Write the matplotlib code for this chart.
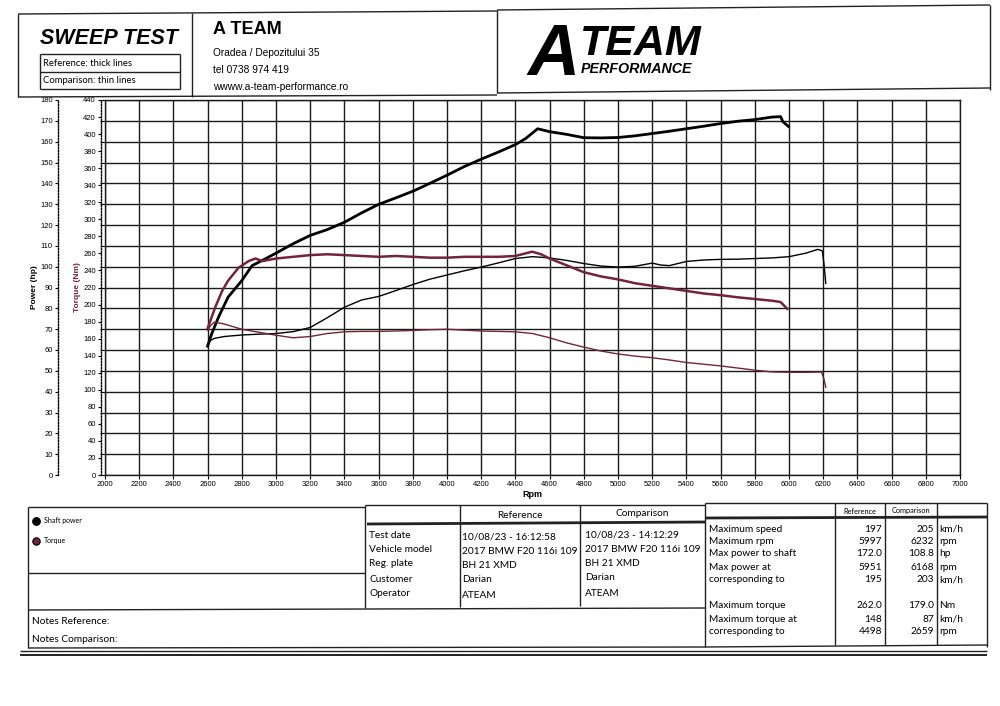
import matplotlib
matplotlib.use("Agg")
import matplotlib.pyplot as plt

# reference run (thick lines)
ref_power_rpm = [2600, 2625, 2665, 2720, 2800, 2860, 2920, 3000, 3100, 3200, 3300, 3400,
                 3500, 3600, 3700, 3800, 3900, 4000, 4100, 4200, 4300, 4400, 4460, 4530,
                 4600, 4700, 4800, 4900, 5000, 5100, 5200, 5300, 5400, 5500, 5600, 5700,
                 5800, 5900, 5951, 5965, 5997]
ref_power_hp = [61.9, 68.0, 76.0, 85.4, 93.3, 100.5, 103.0, 106.5, 111.0, 115.0, 117.8, 121.3,
                125.8, 129.9, 133.0, 136.2, 140.0, 143.9, 148.0, 151.6, 155.0, 158.6, 161.5, 166.2,
                164.8, 163.5, 161.9, 161.8, 162.0, 162.8, 163.9, 165.0, 166.2, 167.4, 168.7, 169.8,
                170.6, 171.8, 172.0, 169.5, 167.3]
ref_torque_rpm = [2600, 2645, 2685, 2720, 2780, 2840, 2880, 2920, 3000, 3100, 3200, 3300,
                  3400, 3500, 3600, 3700, 3800, 3900, 4000, 4100, 4200, 4300, 4400, 4498,
                  4550, 4600, 4700, 4800, 4900, 5000, 5100, 5200, 5300, 5400, 5500, 5600,
                  5700, 5800, 5900, 5950, 5970, 5990]
ref_torque_nm = [172, 197, 216, 228, 243, 251, 254, 251, 254, 256, 258, 259,
                 258, 257, 256, 257, 256, 255, 255, 256, 256, 256, 257, 262,
                 259, 254, 246, 238, 233, 229.5, 225, 222, 219, 216, 213, 211,
                 208.5, 206.5, 204.5, 203, 199, 195]

# comparison run (thin lines)
cmp_power_rpm = [2600, 2615, 2640, 2700, 2800, 2900, 3000, 3100, 3200, 3300, 3400, 3500,
                 3600, 3700, 3800, 3900, 4000, 4100, 4200, 4300, 4400, 4500, 4600, 4700,
                 4800, 4900, 5000, 5100, 5200, 5250, 5300, 5400, 5500, 5600, 5700, 5800,
                 5900, 6000, 6100, 6168, 6195, 6205, 6215]
cmp_power_hp = [61.5, 64.5, 65.6, 66.5, 67.2, 67.6, 67.9, 68.8, 70.8, 75.5, 80.5, 84.0,
                85.7, 88.5, 91.4, 94.0, 96.0, 98.0, 99.8, 101.8, 103.9, 104.8, 104.2, 103.0,
                101.5, 100.3, 99.8, 100.2, 101.7, 100.8, 100.5, 102.5, 103.2, 103.5, 103.6, 103.9,
                104.2, 104.8, 106.5, 108.3, 107.6, 101.0, 92.0]
cmp_torque_rpm = [2600, 2620, 2640, 2700, 2800, 2900, 3000, 3100, 3200, 3300, 3400, 3500,
                  3600, 3700, 3800, 3900, 4000, 4100, 4200, 4300, 4400, 4500, 4600, 4700,
                  4800, 4900, 5000, 5100, 5200, 5300, 5400, 5500, 5600, 5700, 5800, 5900,
                  6000, 6100, 6190, 6205, 6215]
cmp_torque_nm = [170, 176, 179.5, 177, 171, 167.5, 164, 161, 162.5, 166, 168, 168.5,
                 168.5, 169, 169.6, 170.5, 171, 170, 169, 168.5, 168, 166, 161, 155,
                 150, 145.5, 142, 139.5, 137.6, 135, 132, 130, 128, 125.5, 123, 121,
                 120.5, 120.5, 120.8, 112, 103]

rpm_ticks = list(range(2000, 7001, 200))
power_ticks = list(range(0, 181, 10))
torque_ticks = list(range(0, 441, 20))

info_labels = ["Test date", "Vehicle model", "Reg. plate", "Customer", "Operator"]
info_ref = ["10/08/23 - 16:12:58", "2017 BMW F20 116i 109", "BH 21 XMD", "Darian", "ATEAM"]
info_cmp = ["10/08/23 - 14:12:29", "2017 BMW F20 116i 109", "BH 21 XMD", "Darian", "ATEAM"]

summary_labels = ["Maximum speed", "Maximum rpm", "Max power to shaft", "Max power at",
                  "corresponding to", "Maximum torque", "Maximum torque at", "corresponding to"]
summary_ref = ["197", "5997", "172.0", "5951", "195", "262.0", "148", "4498"]
summary_cmp = ["205", "6232", "108.8", "6168", "203", "179.0", "87", "2659"]
summary_units = ["km/h", "rpm", "hp", "rpm", "km/h", "Nm", "km/h", "rpm"]

MAROON = "#72243a"
SANS = ["Liberation Sans", "DejaVu Sans"]
TAB = ["Lato", "DejaVu Sans"]

fig = plt.figure(figsize=(10, 7.06), dpi=100)
fig.patch.set_facecolor("white")

# ---- chart ----
ax = fig.add_axes([0.105, (706 - 475) / 706, 0.855, 375 / 706])
ax.set_xlim(2000, 7000)
ax.set_ylim(0, 180)
ax.set_xticks(rpm_ticks)
ax.set_yticks(power_ticks)
ax.grid(True, color="#1a1a1a", lw=1.0)
ax.set_axisbelow(True)
for s in ax.spines.values():
    s.set_color("#1a1a1a")
    s.set_linewidth(1.0)
ax.tick_params(axis="y", left=False, labelleft=False)
ax.tick_params(axis="x", labelsize=5.5, length=3, width=0.8, pad=1.5)
for lab in ax.get_xticklabels():
    lab.set_family(SANS)
ax.set_xlabel("Rpm", fontsize=6.5, weight="bold", labelpad=1, family=SANS)

ax.plot(ref_power_rpm, ref_power_hp, color="black", lw=2.0, zorder=4)
ax.plot(cmp_power_rpm, cmp_power_hp, color="black", lw=1.0, zorder=4)

# torque scale (inner left axis)
axT = ax.twinx()
axT.set_ylim(0, 440)
axT.set_yticks(torque_ticks)
axT.yaxis.tick_left()
axT.yaxis.set_label_position("left")
for k in ["right", "top", "bottom"]:
    axT.spines[k].set_visible(False)
axT.spines["left"].set_position(("outward", 3))
axT.spines["left"].set_linestyle((0, (1, 1.2)))
axT.spines["left"].set_linewidth(1.0)
axT.tick_params(axis="y", labelsize=5.5, length=2.5, width=0.8, pad=1)
axT.set_ylabel("Torque (Nm)", fontsize=6, weight="bold", color=MAROON, labelpad=2, family=SANS)
axT.plot(ref_torque_rpm, ref_torque_nm, color=MAROON, lw=1.8, zorder=4)
axT.plot(cmp_torque_rpm, cmp_torque_nm, color=MAROON, lw=1.0, zorder=4)

# power scale (outer left axis)
axP = ax.twinx()
axP.set_ylim(0, 180)
axP.set_yticks(power_ticks)
axP.yaxis.tick_left()
axP.yaxis.set_label_position("left")
for k in ["right", "top", "bottom"]:
    axP.spines[k].set_visible(False)
axP.spines["left"].set_position(("outward", 34))
axP.spines["left"].set_linestyle((0, (1, 1.2)))
axP.spines["left"].set_linewidth(1.0)
axP.tick_params(axis="y", labelsize=5.5, length=2.5, width=0.8, pad=1)
axP.set_ylabel("Power (hp)", fontsize=6, weight="bold", labelpad=2, family=SANS)
for a in (axT, axP):
    for lab in a.get_yticklabels():
        lab.set_family(SANS)

# ---- page frame, header and tables (pixel coordinates) ----
pg = fig.add_axes([0, 0, 1, 1])
pg.set_xlim(0, 1000)
pg.set_ylim(706, 0)
pg.axis("off")
pg.patch.set_alpha(0)


def line(x0, y0, x1, y1, lw=1.0):
    pg.plot([x0, x1], [y0, y1], color="#222222", lw=lw, solid_capstyle="butt")


# header boxes
line(18, 14, 497, 11)
line(497, 10, 990, 5)
line(18, 14, 18, 97)
line(192, 13, 192, 97)
line(497, 10, 497, 93)
line(990, 5, 990, 90)
line(18, 97, 497, 95)
line(497, 93, 990, 88)
line(40, 54, 180, 54)
line(40, 72, 180, 72)
line(40, 89, 180, 89)
line(40, 54, 40, 89)
line(180, 54, 180, 89)

pg.text(40, 39, "SWEEP TEST", fontsize=15.5, weight="bold", style="italic",
        family=SANS, va="center", ha="left")
pg.text(43, 63.5, "Reference: thick lines", fontsize=6.8, family=TAB, va="center")
pg.text(43, 80.5, "Comparison: thin lines", fontsize=6.8, family=TAB, va="center")

pg.text(213, 30, "A TEAM", fontsize=13, weight="bold", family=SANS, va="center")
pg.text(213, 53, "Oradea / Depozitului 35", fontsize=7.3, family=SANS, va="center")
pg.text(213, 70, "tel 0738 974 419", fontsize=7.3, family=SANS, va="center")
pg.text(213, 87, "wwww.a-team-performance.ro", fontsize=7.3, family=SANS, va="center")

# logo
pg.text(527, 75, "A", fontsize=52, weight="heavy", style="italic", family=SANS,
        va="baseline", ha="left")
pg.text(580, 55, "TEAM", fontsize=31, weight="heavy", style="italic", family=SANS,
        va="baseline", ha="left")
pg.text(581, 73, "PERFORMANCE", fontsize=10.3, weight="heavy", style="italic", family=SANS,
        va="baseline", ha="left")

# bottom tables
line(20, 651, 987, 651)
line(20, 655, 987, 655, lw=1.4)
line(28, 507, 365, 507)
line(28, 507, 28, 648)
line(28, 573, 365, 573)
line(28, 610, 705, 608)
line(28, 648, 705, 647)
line(365, 505, 705, 505)
line(365, 505, 365, 608)
line(460, 505, 460, 607)
line(580, 505, 580, 606)
line(367, 524, 705, 522, lw=2.0)
line(705, 503, 987, 503)
line(705, 503, 705, 647)
line(987, 503, 987, 647)
line(705, 647, 987, 645)
line(705, 518, 987, 517, lw=2.0)
line(835, 503, 835, 645)
line(885, 503, 885, 645)
line(937, 503, 937, 645)

pg.scatter([36], [521], s=28, color="black", zorder=5)
pg.scatter([36], [541], s=28, color=MAROON, edgecolors="black", linewidths=0.8, zorder=5)
pg.text(44, 521, "Shaft power", fontsize=5, family=TAB, va="center")
pg.text(44, 541, "Torque", fontsize=5, family=TAB, va="center")

pg.text(520, 515, "Reference", fontsize=7.3, family=TAB, ha="center", va="center")
pg.text(642, 514, "Comparison", fontsize=7.3, family=TAB, ha="center", va="center")
info_y = [536, 550, 564, 579, 594]
for i, y in enumerate(info_y):
    pg.text(369, y, info_labels[i], fontsize=7.3, family=TAB, va="center")
    pg.text(462, y + 1, info_ref[i], fontsize=7.3, family=TAB, va="center")
    pg.text(585, y - 1, info_cmp[i], fontsize=7.3, family=TAB, va="center")

pg.text(32, 622, "Notes Reference:", fontsize=7.3, family=TAB, va="center")
pg.text(32, 639, "Notes Comparison:", fontsize=7.3, family=TAB, va="center")

pg.text(860, 511, "Reference", fontsize=5.3, family=TAB, ha="center", va="center")
pg.text(911, 511, "Comparison", fontsize=5.3, family=TAB, ha="center", va="center")
sum_y = [529, 542, 554, 567, 580, 606, 619, 632]
for i, y in enumerate(sum_y):
    pg.text(709, y, summary_labels[i], fontsize=7.3, family=TAB, va="center")
    pg.text(882, y, summary_ref[i], fontsize=7.3, family=TAB, va="center", ha="right")
    pg.text(934, y, summary_cmp[i], fontsize=7.3, family=TAB, va="center", ha="right")
    pg.text(939, y, summary_units[i], fontsize=7.3, family=TAB, va="center")

fig.savefig("out.png", dpi=100, facecolor="white")
